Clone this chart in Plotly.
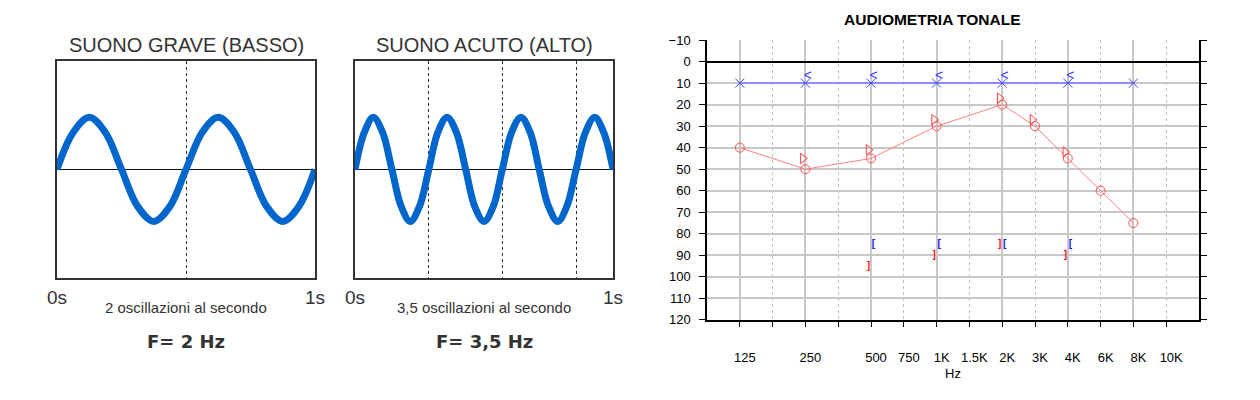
import plotly.graph_objects as go

# ---------------- data ----------------
# left panel: low sound (2 Hz), samples read every 1/16 s
grave_t = [0, 0.0625, 0.125, 0.1875, 0.25, 0.3125, 0.375, 0.4375, 0.5,
           0.5625, 0.625, 0.6875, 0.75, 0.8125, 0.875, 0.9375, 1.0]
grave_y = [0, 0.71, 1, 0.71, 0, -0.71, -1, -0.71, 0,
           0.71, 1, 0.71, 0, -0.71, -1, -0.71, 0]
grave_periods = [0.5]

# middle panel: high sound (3.5 Hz)
acuto_t = [0, 0.036, 0.071, 0.107, 0.143, 0.179, 0.214, 0.25, 0.286, 0.321,
           0.357, 0.393, 0.429, 0.464, 0.5, 0.536, 0.571, 0.607, 0.643, 0.679,
           0.714, 0.75, 0.786, 0.821, 0.857, 0.893, 0.929, 0.964, 1.0]
acuto_y = [0, 0.71, 1, 0.71, 0, -0.71, -1, -0.71,
           0, 0.71, 1, 0.71, 0, -0.71, -1, -0.71,
           0, 0.71, 1, 0.71, 0, -0.71, -1, -0.71,
           0, 0.71, 1, 0.71, 0]
acuto_periods = [0.286, 0.571, 0.857]

# audiogram
x_slots = ["125", "", "250", "", "500", "750", "1K", "1.5K", "2K", "3K", "4K", "6K", "8K", "10K"]
major_freqs = ["125", "250", "500", "1K", "2K", "4K", "8K"]
y_ticks = [-10, 0, 10, 20, 30, 40, 50, 60, 70, 80, 90, 100, 110, 120]

blue_x_freq = ["125", "250", "500", "1K", "2K", "4K", "8K"]
blue_x_db = [10, 10, 10, 10, 10, 10, 10]

blue_bone_freq = ["250", "500", "1K", "2K", "4K"]
blue_bone_db = [7, 7, 7, 7, 7]

red_o_freq = ["125", "250", "500", "1K", "2K", "3K", "4K", "6K", "8K"]
red_o_db = [40, 50, 45, 30, 20, 30, 45, 60, 75]

red_tri_freq = ["250", "500", "1K", "2K", "3K", "4K"]
red_tri_db = [45, 41, 27, 17, 27, 42]

blue_mask_freq = ["500", "1K", "2K", "4K"]
blue_mask_db = [85, 85, 85, 85]

red_mask_freq = ["500", "1K", "2K", "4K"]
red_mask_db = [95, 90, 85, 90]


def pos(freqs):
    return [x_slots.index(f) + 1 for f in freqs]


W, H = 1260, 400
def px(v):
    return v / W
def py(v):
    # compensates for the page's vertical offset/scale seen in the rendering
    return 1 - (v - 8) / 384

WAVE = "#0066cc"
TXT = "#333333"
FONT = "Liberation Sans, Arial, sans-serif"

fig = go.Figure()

# ---------------- wave panels ----------------
fig.add_trace(go.Scatter(x=grave_t, y=grave_y, mode="lines", line=dict(color=WAVE, width=7, shape="spline"),
                         xaxis="x", yaxis="y", hoverinfo="skip"))
fig.add_trace(go.Scatter(x=acuto_t, y=acuto_y, mode="lines", line=dict(color=WAVE, width=7, shape="spline"),
                         xaxis="x2", yaxis="y2", hoverinfo="skip"))

panel_x = dict(range=[0, 1], showline=True, mirror=True, linecolor="#333", linewidth=2,
               showticklabels=False, ticks="", showgrid=True, gridcolor="#333", griddash="dot",
               gridwidth=1, zeroline=False, fixedrange=True)
panel_y = dict(range=[-2.08, 2.08], showline=True, mirror=True, linecolor="#333", linewidth=2,
               showticklabels=False, ticks="", showgrid=False, zeroline=True, zerolinecolor="#111",
               zerolinewidth=1, domain=[py(278), py(62)])


def ann(text, xref, x, y, size, color=TXT, family=FONT):
    return dict(text=text, xref=xref, x=x, yref="paper", y=py(y), showarrow=False,
                xanchor="center", yanchor="middle", font=dict(size=size, color=color, family=family))


annotations = []
for ax, periods, dom, title, sub, freq in [
    ("x", grave_periods, [px(57), px(315)], "SUONO GRAVE (BASSO)", "2 oscillazioni al secondo", "F= 2 Hz"),
    ("x2", acuto_periods, [px(355), px(613)], "SUONO ACUTO (ALTO)", "3,5 oscillazioni al secondo", "F= 3,5 Hz"),
]:
    key = "xaxis" if ax == "x" else "xaxis2"
    fig.update_layout({key: dict(panel_x, domain=dom, tickvals=periods,
                                 anchor="y" if ax == "x" else "y2")})
    annotations += [
        ann(title, ax + " domain", 0.5, 46, 20),
        ann("0s", ax, 0, 298, 19),
        ann("1s", ax, 1, 298, 19),
        ann(sub, ax + " domain", 0.5, 308, 15),
        ann("<b>" + freq + "</b>", ax + " domain", 0.5, 342, 18, family="DejaVu Sans"),
    ]

fig.update_layout(yaxis=panel_y, yaxis2=dict(panel_y, anchor="x2"))

# ---------------- audiogram ----------------
aud_dom = [px(707), px(1199)]
shift = 2.5 * 15 / (1199 - 707)

# invisible trace so that the grid axis is drawn
fig.add_trace(go.Scatter(x=[1], y=[10], mode="markers", marker=dict(size=1, opacity=0),
                         xaxis="x4", yaxis="y3", hoverinfo="skip"))
fig.add_trace(go.Scatter(x=pos(blue_x_freq), y=blue_x_db, mode="lines+markers",
                         line=dict(color="#8c8cff", width=2),
                         marker=dict(symbol="x-thin", size=9, line=dict(color="#4040ff", width=1)),
                         xaxis="x3", yaxis="y3", hoverinfo="skip"))
fig.add_trace(go.Scatter(x=pos(red_o_freq), y=red_o_db, mode="lines+markers",
                         line=dict(color="#ff7f7f", width=1),
                         marker=dict(symbol="circle-open", size=9, color="#ff5050", line=dict(width=1)),
                         xaxis="x3", yaxis="y3", hoverinfo="skip"))
fig.add_trace(go.Scatter(x=pos(red_tri_freq), y=red_tri_db, mode="markers",
                         marker=dict(symbol="triangle-right-open", size=9, color="#ff4040", line=dict(width=1)),
                         xaxis="x5", yaxis="y3", hoverinfo="skip"))
fig.add_trace(go.Scatter(x=pos(blue_bone_freq), y=blue_bone_db, mode="text", text=["<"] * len(blue_bone_db),
                         textfont=dict(size=14, color="#4040ff", family=FONT),
                         xaxis="x6", yaxis="y3", hoverinfo="skip"))
fig.add_trace(go.Scatter(x=pos(blue_mask_freq), y=blue_mask_db, mode="text", text=["<b>[</b>"] * len(blue_mask_db),
                         textfont=dict(size=10, color="#1010ff", family=FONT),
                         xaxis="x6", yaxis="y3", hoverinfo="skip"))
fig.add_trace(go.Scatter(x=pos(red_mask_freq), y=red_mask_db, mode="text", text=["<b>]</b>"] * len(red_mask_db),
                         textfont=dict(size=10, color="#ff1010", family=FONT),
                         xaxis="x5", yaxis="y3", hoverinfo="skip"))

all_slots = list(range(1, len(x_slots) + 1))
minor_slots = [s for s in all_slots if x_slots[s - 1] not in major_freqs]

fig.update_layout(
    xaxis3=dict(domain=aud_dom, anchor="y3", range=[0, 15], tickmode="array",
                tickvals=all_slots, ticktext=x_slots,
                showgrid=False, zeroline=False,
                showline=True, linecolor="black", linewidth=1.5, ticks="outside", ticklen=5,
                tickcolor="black", ticklabelstandoff=20, ticklabelshift=5,
                tickfont=dict(size=13, color="black", family=FONT)),
    xaxis4=dict(overlaying="x3", anchor="y3", range=[0, 15], tickmode="array",
                tickvals=pos(major_freqs), showticklabels=False, ticks="",
                showgrid=True, gridcolor="#c8c8c8", gridwidth=1.5, zeroline=False, showline=False,
                minor=dict(tickmode="array", tickvals=minor_slots, showgrid=True, gridcolor="#c0c0c0",
                           griddash="dot", gridwidth=1, ticks="")),
    xaxis5=dict(overlaying="x3", anchor="y3", range=[shift, 15 + shift], visible=False),
    xaxis6=dict(overlaying="x3", anchor="y3", range=[-shift, 15 - shift], visible=False),
    yaxis3=dict(domain=[py(320), py(41)], anchor="x3", range=[120, -10], tickmode="array",
                tickvals=y_ticks, showgrid=True, gridcolor="#c8c8c8", gridwidth=1.5,
                zeroline=True, zerolinecolor="black", zerolinewidth=1.5,
                showline=True, linecolor="black", linewidth=1.5, mirror="ticks",
                ticks="outside", ticklen=6, tickcolor="black", ticklabelstandoff=6,
                tickfont=dict(size=13, color="black", family=FONT)),
)

annotations += [
    ann("<b>AUDIOMETRIA TONALE</b>", "paper", px(932), 20, 15.5, color="black"),
    ann("Hz", "x3 domain", 0.5, 374, 13, color="black"),
]

fig.update_layout(width=W, height=H, margin=dict(l=0, r=0, t=0, b=0), showlegend=False,
                  paper_bgcolor="white", plot_bgcolor="white", annotations=annotations)

fig.write_html("out.html")
